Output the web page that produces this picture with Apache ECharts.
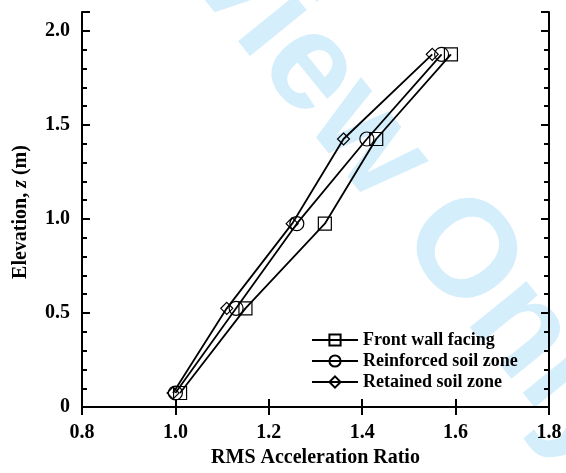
<!DOCTYPE html>
<html><head><meta charset="utf-8">
<script src="https://cdn.jsdelivr.net/npm/echarts@6/dist/echarts.min.js"></script>
<style>html,body{margin:0;padding:0;background:#fff}#c{width:566px;height:473px}</style>
</head><body><div id="c"></div>
<script>
const elevation = [0.075, 0.525, 0.975, 1.425, 1.875];
const frontWall = [1.01, 1.15, 1.32, 1.43, 1.59];
const reinforced = [1.00, 1.13, 1.26, 1.41, 1.57];
const retained = [0.995, 1.11, 1.25, 1.36, 1.55];
const seriesNames = ['Front wall facing', 'Reinforced soil zone', 'Retained soil zone'];
const xTickLabels = ['0.8', '1.0', '1.2', '1.4', '1.6', '1.8'];
const yTickLabels = ['0', '0.5', '1.0', '1.5', '2.0'];

const SERIF = '"Liberation Serif", "Times New Roman", serif';
const chart = echarts.init(document.getElementById('c'), null, {renderer: 'canvas'});

function pairs(xs) { return xs.map((x, i) => [x, elevation[i]]); }
const symbols = ['rect', 'circle', 'diamond'];
const sizes = [13, 14, 12];
const datasets = [frontWall, reinforced, retained];

const lineAxis = {show: true, lineStyle: {color: '#000', width: 2}};
const yLabelFmt = v => {
  const s = v === 0 ? '0' : v.toFixed(1);
  return yTickLabels.includes(s) ? s : '';
};
const xLabelFmt = v => {
  const s = v.toFixed(1);
  return xTickLabels.includes(s) ? s : '';
};

const option = {
  backgroundColor: '#fff',
  animation: false,
  grid: {left: 82, right: 17, top: 12, bottom: 60, containLabel: false},
  graphic: [
    {
      type: 'text', z: -100, x: 346, y: 114, rotation: -51 * Math.PI / 180,
      silent: true,
      style: {text: 'Preview Only', fill: '#d4eefb', font: 'bold 138px "Liberation Sans", Arial, sans-serif',
        align: 'center', verticalAlign: 'middle'}
    },
    {
      type: 'text', x: 21, y: 212, rotation: Math.PI / 2, z: 10,
      style: {
        text: '{a|Elevation, }{i|z}{a| (m)}',
        align: 'center', verticalAlign: 'middle',
        rich: {
          a: {font: 'bold 20px ' + SERIF, fill: '#000'},
          i: {font: 'italic bold 20px ' + SERIF, fill: '#000'}
        }
      }
    }
  ],
  legend: {
    orient: 'vertical', left: 311, top: 331, padding: 0,
    itemWidth: 46, itemHeight: 14, itemGap: 3,
    data: seriesNames,
    textStyle: {fontFamily: SERIF, fontWeight: 'bold', fontSize: 18, color: '#000'}
  },
  xAxis: [
    {
      type: 'value', min: 0.8, max: 1.8, interval: 0.2, position: 'bottom',
      axisLine: lineAxis,
      axisTick: {show: true, inside: true, length: 8, lineStyle: {color: '#000', width: 2}},
      axisLabel: {formatter: xLabelFmt, fontFamily: SERIF, fontWeight: 'bold', fontSize: 20, color: '#000', margin: 16},
      splitLine: {show: false},
      name: 'RMS Acceleration Ratio', nameLocation: 'middle', nameGap: 37,
      nameTextStyle: {fontFamily: SERIF, fontWeight: 'bold', fontSize: 20, color: '#000'}
    },
    {
      type: 'value', min: 0.8, max: 1.8, interval: 0.2, position: 'top',
      axisLine: lineAxis,
      axisTick: {show: true, inside: true, length: 8, lineStyle: {color: '#000', width: 2}},
      axisLabel: {show: false}, splitLine: {show: false}
    }
  ],
  yAxis: [
    {
      type: 'value', min: 0, max: 2.1, interval: 0.5, position: 'left',
      axisLine: lineAxis,
      axisTick: {show: true, inside: true, length: 8, lineStyle: {color: '#000', width: 2}},
      axisLabel: {formatter: yLabelFmt, fontFamily: SERIF, fontWeight: 'bold', fontSize: 20, color: '#000', margin: 12},
      splitLine: {show: false}
    },
    {
      type: 'value', min: 0, max: 2.1, interval: 0.1, position: 'left',
      axisLine: {show: false},
      axisTick: {show: true, inside: true, length: 5, lineStyle: {color: '#000', width: 2}},
      axisLabel: {show: false}, splitLine: {show: false}
    },
    {
      type: 'value', min: 0, max: 2.1, interval: 0.1, position: 'right',
      axisLine: lineAxis,
      axisTick: {show: true, inside: true, length: 5, lineStyle: {color: '#000', width: 2}},
      axisLabel: {show: false}, splitLine: {show: false}
    },
    {
      type: 'value', min: 0, max: 2.1, interval: 0.5, position: 'right',
      axisLine: {show: false},
      axisTick: {show: true, inside: true, length: 8, lineStyle: {color: '#000', width: 2}},
      axisLabel: {show: false}, splitLine: {show: false}
    }
  ],
  series: seriesNames.map((name, i) => ({
    name, type: 'line', xAxisIndex: 0, yAxisIndex: 0,
    data: pairs(datasets[i]),
    symbol: symbols[i], symbolSize: sizes[i],
    showAllSymbol: true,
    color: '#000',
    lineStyle: {color: '#000', width: 1.8},
    itemStyle: {color: 'rgba(255,255,255,0)', borderColor: '#000', borderWidth: 1.2},
    z: 3 + i
  }))
};
chart.setOption(option);
</script></body></html>
